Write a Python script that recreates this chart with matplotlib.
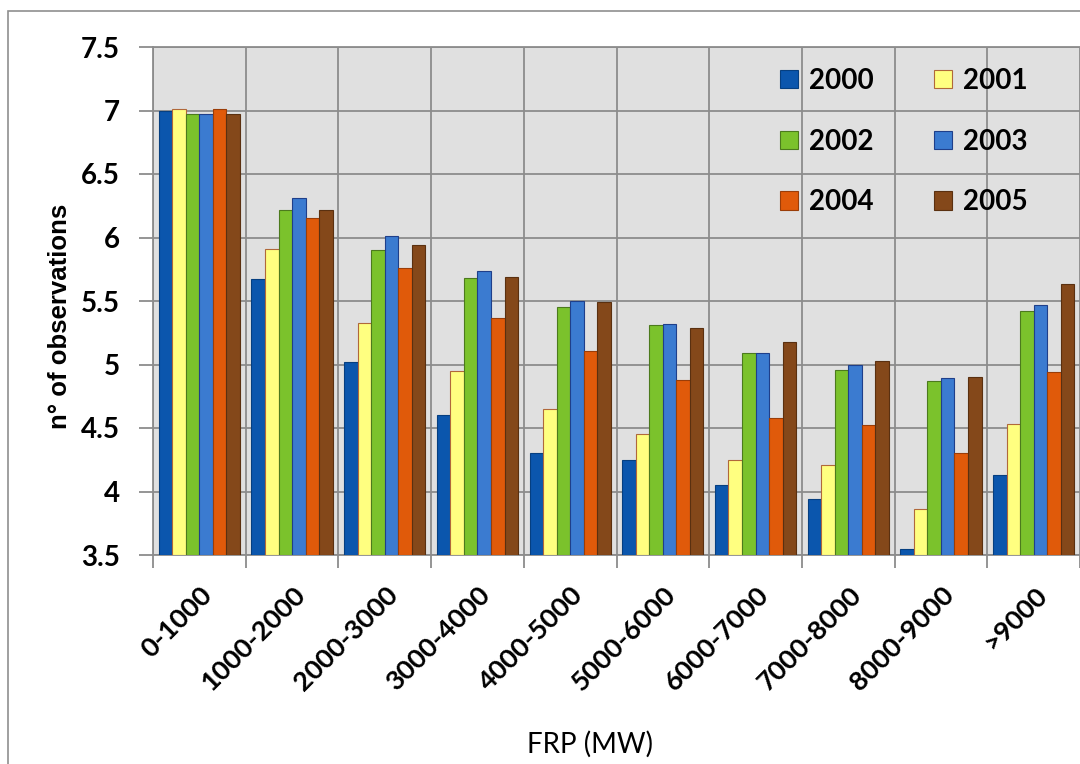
import numpy as np
import matplotlib
matplotlib.use('Agg')
import matplotlib.pyplot as plt
from matplotlib.patches import Rectangle
from matplotlib.transforms import ScaledTranslation

plt.rcParams['font.family'] = ['Lato', 'DejaVu Sans']

# FRP classes and yearly values (log of n° of observations)
clases = ['0-1000', '1000-2000', '2000-3000', '3000-4000', '4000-5000',
          '5000-6000', '6000-7000', '7000-8000', '8000-9000', '>9000']
anios = ['2000', '2001', '2002', '2003', '2004', '2005']

v2000 = [7.00, 5.67, 5.02, 4.60, 4.30, 4.25, 4.05, 3.94, 3.55, 4.13]
v2001 = [7.01, 5.91, 5.33, 4.95, 4.65, 4.45, 4.25, 4.21, 3.86, 4.53]
v2002 = [6.97, 6.22, 5.90, 5.68, 5.45, 5.31, 5.09, 4.96, 4.87, 5.42]
v2003 = [6.97, 6.31, 6.01, 5.74, 5.50, 5.32, 5.09, 5.00, 4.89, 5.47]
v2004 = [7.01, 6.15, 5.76, 5.37, 5.11, 4.88, 4.58, 4.52, 4.30, 4.94]
v2005 = [6.97, 6.22, 5.94, 5.69, 5.49, 5.29, 5.18, 5.03, 4.90, 5.63]
series = [v2000, v2001, v2002, v2003, v2004, v2005]

colores = ['#0b56ad', '#ffff80', '#7bc22c', '#3b7bd0', '#e05a0a', '#84481a']
bordes = ['#063f80', '#b0683a', '#4c7a1d', '#1f3f8a', '#9a3d08', '#5a3010']

fig = plt.figure(figsize=(10.8, 7.64), dpi=100)

# marco exterior del grafico
fig.patches.append(Rectangle((8 / 1080, -0.1), 1.2, 1.1 - 11 / 764,
                             transform=fig.transFigure, fill=False,
                             edgecolor='#8f8f8f', linewidth=1.2, clip_on=False))

ax = fig.add_axes([153 / 1080, 1 - 555 / 764, 927 / 1080, 508 / 764])
ax.set_facecolor('#e0e0e0')

x = np.arange(len(clases))
w = 0.146
barras = []
for j, vals in enumerate(series):
    b = ax.bar(x + (j - 2.5) * w, np.array(vals) - 3.5, bottom=3.5, width=w,
               color=colores[j], edgecolor=bordes[j], linewidth=0.8,
               label=anios[j], zorder=3)
    barras.append(b)

ax.set_xlim(-0.5, len(clases) - 0.5)
ax.set_ylim(3.5, 7.5)
ax.set_yticks(np.arange(3.5, 7.51, 0.5))
ax.set_yticklabels(['%g' % t for t in np.arange(3.5, 7.51, 0.5)])

ax.set_xticks(x)
ax.set_xticklabels(clases, rotation=45, ha='right', va='center',
                   rotation_mode='anchor')
ax.set_xticks(np.arange(-0.5, len(clases), 1.0), minor=True)

gris = '#8c8c8c'
ax.grid(axis='y', which='major', color=gris, linewidth=1.3, zorder=0)
ax.grid(axis='x', which='minor', color=gris, linewidth=1.3, zorder=0)
ax.set_axisbelow(True)
ax.tick_params(axis='y', length=10, width=1.3, color=gris, pad=14,
               labelsize=20)
ax.tick_params(axis='x', which='major', length=0, pad=26, labelsize=19.5)
ax.tick_params(axis='x', which='minor', length=9, width=1.3, color=gris)
for lbl in ax.get_yticklabels() + ax.get_xticklabels():
    lbl.set_fontweight('bold')
for lbl in ax.get_xticklabels():
    lbl.set_transform(lbl.get_transform() +
                      ScaledTranslation(9 / 100, 0, fig.dpi_scale_trans))

for lado in ['left', 'bottom', 'top']:
    ax.spines[lado].set_color(gris)
    ax.spines[lado].set_linewidth(1.3)
ax.spines['right'].set_visible(False)

fig.text(60 / 1080, 1 - 316 / 764, 'n° of observations', rotation=90,
         ha='center', va='center', fontsize=18.5, fontweight='bold',
         family=['Liberation Sans', 'DejaVu Sans'])
fig.text(590 / 1080, 1 - 744 / 764, 'FRP (MW)', ha='center', va='center',
         fontsize=20)

# leyenda por filas: 2000 2001 / 2002 2003 / 2004 2005
orden = [0, 2, 4, 1, 3, 5]
ax.legend([barras[i] for i in orden], [anios[i] for i in orden],
          ncol=2, loc='upper left', bbox_to_anchor=(766 / 1080, 1 - 54 / 764),
          bbox_transform=fig.transFigure, frameon=False,
          prop={'weight': 'bold', 'size': 20},
          handlelength=0.65, handleheight=0.65, handletextpad=0.4,
          labelspacing=1.25, columnspacing=2.15, borderpad=0)

fig.savefig('out.png', dpi=100)
